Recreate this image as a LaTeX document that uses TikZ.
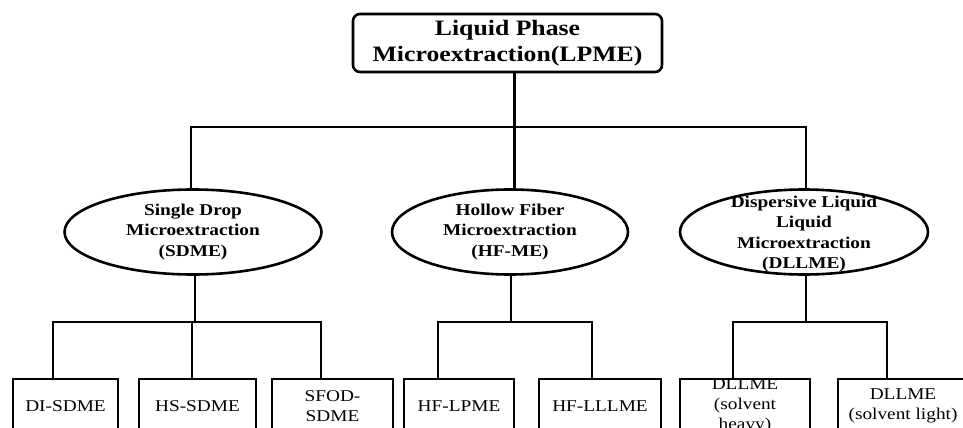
\documentclass[tikz,border=0pt]{standalone}
\usepackage{fontspec}
\setmainfont{Liberation Serif}
\newfontfamily\widefont[FakeStretch=1.17]{Liberation Serif}
\usetikzlibrary{shapes.geometric}
\begin{document}
\begin{tikzpicture}[x=1pt,y=-1pt,
  conn/.style={line width=2.6pt,line cap=rect},
  topbox/.style={draw,line width=2.6pt,rounded corners=7pt,minimum width=309pt,minimum height=58pt,inner sep=0pt,
     align=center,font=\widefont\fontsize{22}{26}\selectfont\bfseries},
  ell/.style={draw,ellipse,line width=2.6pt,minimum width=257pt,minimum height=85pt,inner sep=0pt},
  etext/.style={align=center,inner sep=0pt,font=\widefont\fontsize{16.5}{20.5}\selectfont\bfseries},
  leaf/.style={draw,line width=2.6pt,minimum height=54pt,inner sep=0pt,align=center,
     font=\widefont\fontsize{16.5}{20}\selectfont}]
\useasboundingbox (0,0) rectangle (963,428);
\node[topbox] (root) at (507.5,43) {Liquid Phase\\Microextraction(LPME)};
% ellipses
\node[ell] (sd) at (193,232) {};
\node[etext] (sdt) at (sd.center) {Single Drop\\Microextraction\\(SDME)};
\node[ell,minimum width=236pt] (hf) at (510,232) {};
\node[etext] (hft) at (hf.center) {Hollow Fiber\\Microextraction\\(HF-ME)};
\node[ell,minimum width=248pt] (dl) at (804,232) {};
\node[etext] (dlt) at (804,234) {Dispersive Liquid\\Liquid\\Microextraction\\(DLLME)};
% leaves
\node[leaf,minimum width=105pt] (di) at (65.5,406) {DI-SDME};
\node[leaf,minimum width=117pt] (hs) at (197.5,406) {HS-SDME};
\node[leaf,minimum width=121pt] (sf) at (332.5,406) {SFOD-\\SDME};
\node[leaf,minimum width=110pt] (hl) at (459,406) {HF-LPME};
\node[leaf,minimum width=122pt] (hll) at (600,406) {HF-LLLME};
\node[leaf,minimum width=130pt] (dh) at (745,406) {DLLME\\(solvent\\heavy)};
\node[leaf,minimum width=130pt] (dli) at (903,406) {DLLME\\(solvent light)};
% connectors level 1
\coordinate (j0) at (514.5,127);
\draw[conn] (root.south -| j0) -- (j0);
\draw[conn] (sd.north -| 191,0) |- (j0) -| (dl.north -| 806,0);
\draw[conn] (j0) -- (hf.north -| j0);
% SDME
\coordinate (j1) at (195,322);
\draw[conn] (sd.south -| j1) -- (j1);
\draw[conn] (di.north -| 53,0) |- (j1) -| (sf.north -| 321,0);
\draw[conn] (hs.north -| 192,0) -- (192,322);
% HF
\coordinate (j2) at (511,322);
\draw[conn] (hf.south -| j2) -- (j2);
\draw[conn] (hl.north -| 438,0) |- (j2) -| (hll.north -| 592,0);
% DLLME
\coordinate (j3) at (806,322);
\draw[conn] (dl.south -| j3) -- (j3);
\draw[conn] (dh.north -| 733,0) |- (j3) -| (dli.north -| 887,0);
\end{tikzpicture}
\end{document}
